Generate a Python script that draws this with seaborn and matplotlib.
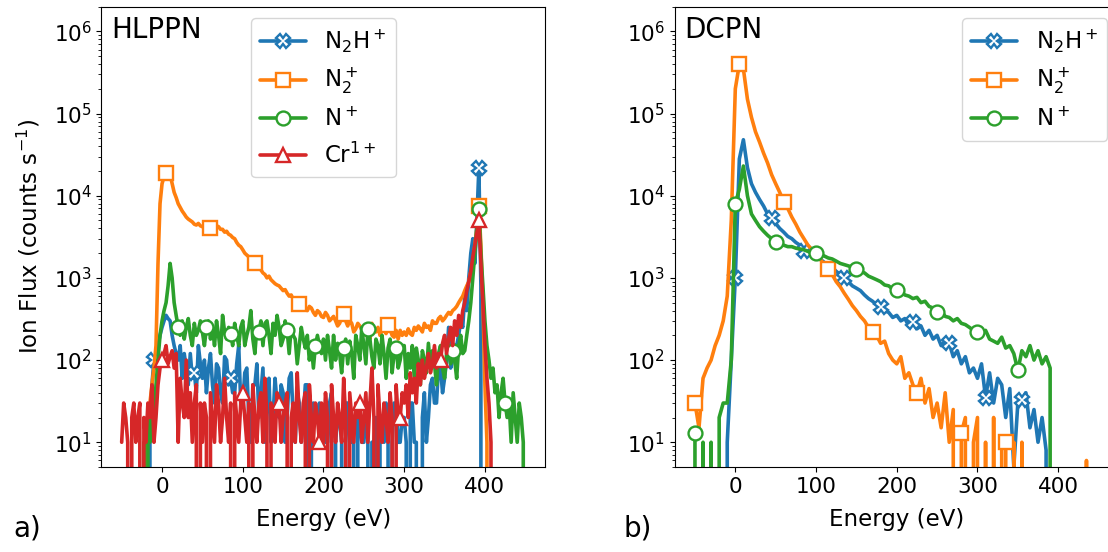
import matplotlib
matplotlib.use("Agg")
import matplotlib.pyplot as plt
import seaborn as sns

# energy grids (eV): 2.5 eV bins for HLPPN, 5 eV bins for DCPN
energy_a = [e / 2 for e in range(-100, 901, 5)]
energy_b = list(range(-50, 451, 5))

# ---- HLPPN (panel a), rows of 50 eV ----
hl_n2h = [
    0, 0, 0, 0, 0, 0, 0, 0, 0, 0, 0, 0, 0, 0, 10, 50, 100, 80, 150, 200,
    250, 300, 350, 320, 300, 200, 150, 120, 100, 150, 60, 120, 80, 50, 120, 60, 70, 40, 150, 90,
    60, 100, 40, 80, 120, 50, 30, 90, 80, 40, 30, 110, 100, 50, 60, 40, 40, 90, 150, 30,
    30, 70, 80, 20, 10, 50, 50, 90, 20, 40, 80, 10, 30, 60, 10, 20, 60, 30, 20, 50,
    40, 10, 20, 60, 70, 20, 10, 40, 30, 10, 20, 50, 50, 0, 10, 30, 20, 20, 30, 10,
    20, 10, 10, 30, 40, 0, 10, 20, 20, 10, 0, 30, 30, 10, 10, 20, 0, 20, 20, 10,
    10, 20, 30, 0, 10, 10, 20, 0, 10, 20, 10, 30, 20, 0, 10, 30, 30, 10, 10, 20,
    20, 10, 0, 30, 30, 10, 10, 0, 0, 20, 40, 10, 20, 50, 60, 30, 30, 80, 80, 40,
    60, 100, 250, 80, 100, 150, 150, 200, 300, 250, 600, 400, 1000, 2000, 3000, 1500, 5000, 22000, 800, 0,
    0, 0, 0, 0, 0, 0, 0, 0, 0, 0, 0, 0, 0, 0, 0, 0, 0, 0, 0, 0,
    0]
hl_n2 = [
    0, 0, 0, 0, 0, 0, 0, 0, 0, 0, 0, 0, 10, 20, 30, 50, 80, 150, 1500, 8000,
    14000, 17000, 19000, 20000, 18000, 14000, 11000, 9500, 8000, 7200, 6500, 6000, 5500, 5200, 5000, 4800, 4500, 4400, 4600, 4300,
    4200, 4000, 4300, 4100, 4000, 3800, 4100, 4300, 4200, 3900, 3900, 3600, 3700, 3400, 3300, 3100, 3000, 2700, 2500, 2400,
    2200, 2000, 1900, 1800, 1700, 1600, 1500, 1450, 1300, 1250, 1150, 1100, 1000, 1050, 950, 900, 850, 820, 800, 750,
    700, 720, 650, 600, 620, 550, 520, 500, 480, 460, 450, 420, 400, 450, 430, 380, 350, 400, 380, 340,
    330, 380, 350, 300, 320, 340, 300, 260, 280, 330, 360, 300, 260, 300, 280, 220, 240, 280, 260, 230,
    240, 200, 220, 180, 280, 230, 220, 250, 200, 230, 250, 210, 270, 240, 200, 190, 230, 180, 230, 200,
    220, 200, 240, 210, 200, 250, 230, 260, 240, 220, 280, 250, 260, 230, 300, 280, 280, 320, 340, 300,
    320, 350, 380, 360, 400, 420, 450, 500, 550, 600, 700, 800, 900, 1200, 1500, 2500, 4000, 7500, 2500, 500,
    50, 10, 0, 0, 0, 0, 0, 0, 0, 0, 0, 0, 0, 0, 0, 0, 0, 0, 0, 0,
    0]
hl_n = [
    0, 0, 0, 0, 0, 0, 0, 0, 0, 0, 0, 10, 0, 20, 10, 30, 20, 50, 100, 200,
    300, 400, 500, 800, 1500, 1000, 500, 350, 250, 200, 300, 180, 250, 320, 200, 150, 280, 200, 230, 300,
    220, 150, 250, 300, 180, 250, 150, 300, 200, 120, 350, 220, 180, 250, 210, 150, 280, 200, 150, 250,
    300, 150, 200, 250, 400, 180, 120, 250, 220, 300, 150, 280, 300, 200, 120, 280, 200, 350, 250, 150,
    180, 300, 230, 120, 250, 200, 180, 90, 150, 250, 180, 140, 200, 100, 150, 80, 150, 200, 150, 120,
    180, 100, 200, 130, 80, 200, 100, 160, 120, 70, 140, 180, 90, 170, 120, 60, 200, 150, 100, 250,
    150, 90, 240, 180, 110, 80, 180, 150, 90, 200, 120, 60, 140, 180, 70, 120, 140, 80, 100, 150,
    150, 60, 120, 80, 150, 60, 140, 100, 50, 130, 100, 70, 160, 80, 130, 90, 50, 120, 150, 80,
    60, 120, 150, 90, 130, 100, 60, 150, 200, 120, 130, 200, 300, 500, 1000, 2000, 4000, 6800, 2000, 800,
    300, 150, 100, 60, 80, 40, 50, 20, 40, 60, 30, 20, 30, 10, 40, 20, 10, 30, 20, 10,
    0]
hl_cr = [
    10, 30, 20, 10, 0, 20, 30, 10, 20, 30, 0, 20, 10, 30, 20, 50, 10, 20, 50, 80,
    100, 120, 150, 90, 110, 130, 80, 120, 10, 60, 30, 20, 100, 20, 40, 10, 30, 50, 0, 30,
    10, 30, 20, 0, 40, 20, 10, 50, 30, 10, 20, 60, 20, 10, 30, 0, 40, 20, 10, 30,
    40, 20, 10, 30, 0, 50, 20, 10, 30, 40, 10, 60, 20, 0, 30, 20, 10, 40, 30, 10,
    20, 30, 40, 0, 20, 30, 10, 70, 20, 10, 30, 40, 0, 50, 20, 10, 30, 20, 10, 30,
    10, 40, 20, 0, 50, 20, 10, 30, 20, 10, 60, 20, 0, 40, 20, 10, 30, 20, 30, 10,
    20, 40, 10, 30, 80, 20, 0, 50, 20, 10, 30, 20, 10, 40, 20, 0, 50, 20, 20, 40,
    30, 50, 20, 70, 40, 60, 30, 90, 50, 100, 60, 80, 120, 70, 90, 150, 80, 120, 100, 160,
    200, 120, 180, 250, 150, 300, 200, 350, 250, 400, 500, 700, 900, 1200, 1800, 2500, 3500, 5000, 1500, 500,
    150, 60, 30, 10, 0, 0, 0, 0, 0, 0, 0, 0, 0, 0, 0, 0, 0, 0, 0, 0,
    0]

# ---- DCPN (panel b), rows of 50 eV ----
dc_n2h = [
    0, 0, 0, 0, 0, 0, 0, 0, 10, 100,
    1000, 28000, 48000, 22000, 14000, 11000, 9000, 7500, 6000, 5400,
    4600, 4000, 3600, 3200, 3000, 2700, 2500, 2100, 2200, 2000,
    1800, 1700, 1550, 1400, 1350, 1200, 1100, 1000, 900, 800,
    750, 700, 620, 560, 520, 470, 440, 400, 380, 330,
    350, 300, 320, 260, 290, 240, 260, 200, 230, 180,
    200, 150, 170, 160, 110, 130, 90, 110, 70, 80,
    60, 90, 35, 70, 30, 60, 50, 20, 45, 5,
    30, 33, 40, 15, 25, 10, 20, 8, 0, 0,
    0, 0, 0, 0, 0, 0, 0, 0, 0, 0,
    0]
dc_n2 = [
    30, 15, 60, 80, 100, 150, 200, 300, 600, 5000,
    200000, 400000, 350000, 150000, 90000, 60000, 45000, 33000, 25000, 18000,
    14000, 11000, 8500, 7000, 5500, 4500, 3600, 3000, 2500, 2200,
    2000, 1700, 1450, 1300, 1100, 900, 780, 650, 550, 460,
    400, 340, 300, 250, 220, 200, 160, 170, 120, 100,
    90, 110, 60, 70, 50, 40, 60, 30, 45, 20,
    30, 15, 40, 10, 25, 0, 13, 20, 0, 10,
    20, 0, 10, 0, 20, 0, 10, 10, 0, 10,
    0, 10, 0, 0, 0, 0, 0, 0, 0, 0,
    0, 0, 0, 0, 0, 0, 0, 6, 0, 0,
    0]
dc_n = [
    13, 0, 10, 0, 10, 0, 20, 30, 30, 100,
    8000, 12000, 23000, 10000, 6000, 5000, 4200, 3700, 3300, 3000,
    2700, 2600, 2500, 2400, 2400, 2300, 2250, 2200, 2100, 2050,
    2000, 1900, 1850, 1750, 1700, 1600, 1500, 1450, 1400, 1350,
    1300, 1200, 1150, 1050, 1000, 950, 900, 820, 800, 730,
    710, 700, 620, 600, 560, 580, 500, 520, 450, 430,
    380, 400, 340, 330, 300, 320, 280, 270, 250, 230,
    220, 200, 230, 180, 170, 160, 190, 140, 150, 120,
    75, 130, 110, 150, 100, 130, 90, 110, 80, 0,
    0, 0, 0, 0, 0, 0, 0, 0, 0, 0,
    0]

# energies where markers sit
hl_n2h_marks = [-10, 40, 85, 392.5]
hl_n2_marks = [5, 60, 115, 170, 225, 280, 392.5]
hl_n_marks = [20, 55, 85, 120, 155, 190, 225, 255, 290, 360, 392.5, 425]
hl_cr_marks = [0, 100, 145, 195, 245, 295, 345, 392.5]
dc_n2h_marks = [0, 45, 85, 135, 180, 220, 265, 310, 355]
dc_n2_marks = [-50, 5, 60, 115, 170, 225, 280, 335]
dc_n_marks = [-50, 0, 50, 100, 150, 200, 250, 300, 350]

labels = [r"N$_2$H$^+$", r"N$_2^+$", r"N$^+$", r"Cr$^{1+}$"]

sns.set_style("ticks", {"axes.edgecolor": "black", "xtick.color": "black",
                        "ytick.color": "black", "text.color": "black",
                        "axes.labelcolor": "black"})
plt.rcParams["font.family"] = ["DejaVu Sans"]
pal = sns.color_palette("tab10")
blue, orange, green, red = pal[0], pal[1], pal[2], pal[3]

fig = plt.figure(figsize=(11.08, 5.52), dpi=100)
ax1 = fig.add_axes([0.0916, 0.154, 0.4007, 0.834])
ax2 = fig.add_axes([0.609, 0.154, 0.4007, 0.834])


def draw(ax, x, y, marks, color, marker, label):
    idx = [x.index(m) for m in marks]
    sns.lineplot(x=x, y=y, ax=ax, estimator=None, errorbar=None,
                 color=color, linewidth=2.6, marker=marker, markevery=idx,
                 markersize=10, markerfacecolor="white",
                 markeredgecolor=color, markeredgewidth=1.7, label=label)


draw(ax1, energy_a, hl_n2h, hl_n2h_marks, blue, "X", labels[0])
draw(ax1, energy_a, hl_n2, hl_n2_marks, orange, "s", labels[1])
draw(ax1, energy_a, hl_n, hl_n_marks, green, "o", labels[2])
draw(ax1, energy_a, hl_cr, hl_cr_marks, red, "^", labels[3])

draw(ax2, energy_b, dc_n2h, dc_n2h_marks, blue, "X", labels[0])
draw(ax2, energy_b, dc_n2, dc_n2_marks, orange, "s", labels[1])
draw(ax2, energy_b, dc_n, dc_n_marks, green, "o", labels[2])

for ax, name, loc in [(ax1, "HLPPN", "upper center"), (ax2, "DCPN", "upper right")]:
    ax.set_yscale("log")
    ax.set_xlim(-75, 475)
    ax.set_ylim(5, 2e6)
    ax.set_xticks([0, 100, 200, 300, 400])
    ax.tick_params(labelsize=15.5)
    ax.set_xlabel("Energy (eV)", fontsize=16.5, labelpad=8)
    ax.text(0.022, 0.931, name, transform=ax.transAxes, fontsize=20,
            va="baseline", ha="left")
    ax.legend(loc=loc, fontsize=16.5)

ax1.set_ylabel("Ion Flux (counts s$^{-1}$)", fontsize=16.5, labelpad=8)
ax2.set_ylabel("")

fig.text(0.012, 0.042, "a)", fontsize=20, va="center")
fig.text(0.563, 0.042, "b)", fontsize=20, va="center")

fig.savefig("out.png", dpi=100)
